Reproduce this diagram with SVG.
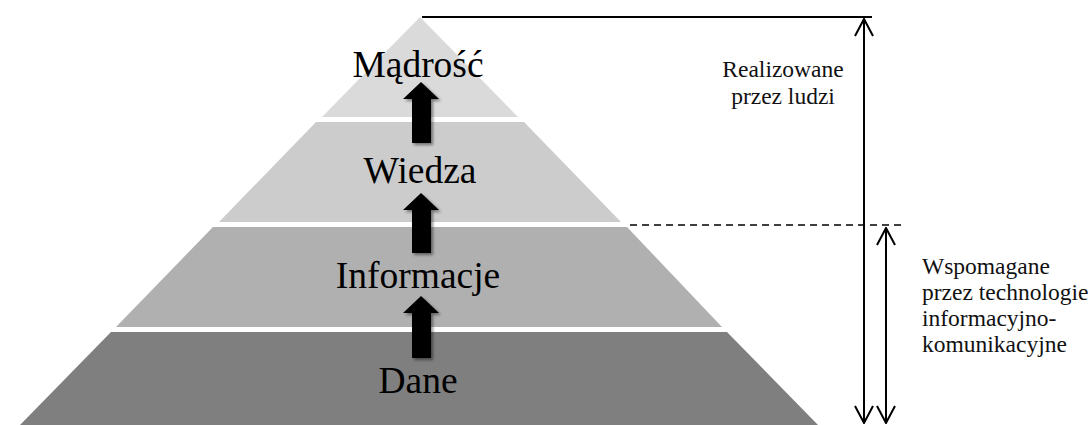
<svg xmlns="http://www.w3.org/2000/svg" width="1091" height="425" viewBox="0 0 1091 425">
<style>
.lbl{font-family:"Liberation Serif","Times New Roman",serif;font-size:37.5px;fill:#000;text-anchor:middle}
.side{font-family:"Liberation Serif","Times New Roman",serif;font-size:23.5px;fill:#111}
.ln{stroke:#000;stroke-width:2;fill:none}
.blk{fill:#000;filter:url(#sh)}
</style>
<defs>
<filter id="sh" x="-50%" y="-20%" width="200%" height="150%">
<feDropShadow dx="2" dy="2" stdDeviation="1.5" flood-color="#000" flood-opacity="0.45"/>
</filter>
<marker id="ah" viewBox="0 0 20 20" refX="19" refY="10" markerWidth="20" markerHeight="20" markerUnits="userSpaceOnUse" orient="auto-start-reverse">
<path d="M2,1 L19,10 L2,19" fill="none" stroke="#000" stroke-width="2"/>
</marker>
</defs>
<rect width="1091" height="425" fill="#fff"/>
<g id="layer-madrosc">
<polygon points="420,17 322,117 518,117" fill="#dadada"/>
<text class="lbl" x="418" y="77">Mądrość</text>
</g>
<g id="layer-wiedza">
<polygon points="316,122 524,122 621,222 219,222" fill="#cccccc"/>
<text class="lbl" x="420" y="183">Wiedza</text>
</g>
<g id="layer-informacje">
<polygon points="213,227 627,227 722,327 116,327" fill="#b0b0b0"/>
<text class="lbl" x="418" y="288">Informacje</text>
</g>
<g id="layer-dane">
<polygon points="111,332 727,332 818,425 20,425" fill="#7f7f7f"/>
<text class="lbl" x="418" y="393">Dane</text>
</g>
<g id="connectors">
<polygon class="blk" points="421,82 439,99 431,99 431,143 412,143 412,99 403,99"/>
<polygon class="blk" points="421,193 439,210 431,210 431,253 412,253 412,210 403,210"/>
<polygon class="blk" points="421,296 439,313 431,313 431,358 412,358 412,313 403,313"/>
<line class="ln" x1="422" y1="17" x2="872" y2="17"/>
<line x1="630" y1="225" x2="904" y2="225" stroke="#000" stroke-width="1.5" stroke-dasharray="7,5"/>
<line class="ln" x1="864" y1="19" x2="864" y2="423" marker-start="url(#ah)" marker-end="url(#ah)"/>
<line class="ln" x1="886" y1="228" x2="886" y2="423" marker-start="url(#ah)" marker-end="url(#ah)"/>
</g>
<g id="note-ludzie" font-family="Liberation Serif, Times New Roman, serif">
<text class="side" x="783" y="77" text-anchor="middle">Realizowane</text>
<text class="side" x="783" y="104" text-anchor="middle">przez ludzi</text>
</g>
<g id="note-tik" font-family="Liberation Serif, Times New Roman, serif">
<text class="side" x="922" y="274" font-size="24">Wspomagane</text>
<text class="side" x="922" y="300" font-size="24">przez technologie</text>
<text class="side" x="922" y="326" font-size="24">informacyjno-</text>
<text class="side" x="922" y="352" font-size="24">komunikacyjne</text>
</g>
</svg>
